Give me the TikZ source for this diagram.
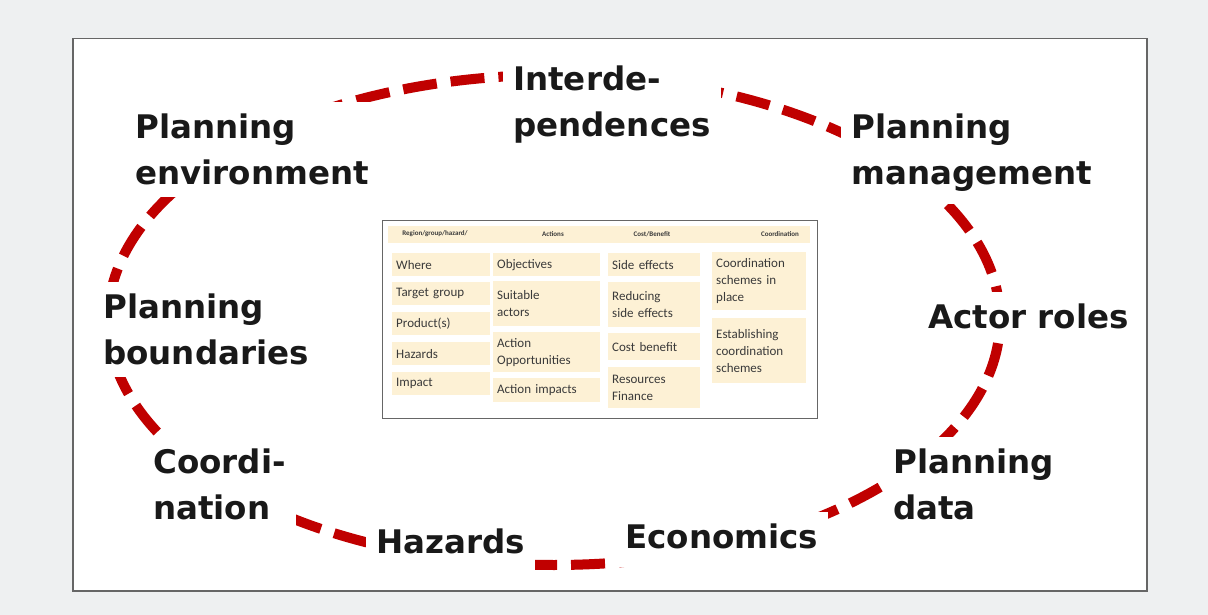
\documentclass[tikz,border=0pt]{standalone}
\usepackage{fontspec}
\setmainfont{Carlito}
\newfontfamily\lblfont{DejaVu Sans}
\definecolor{ringred}{HTML}{C00000}
\definecolor{cellfill}{HTML}{FDF1D5}
\definecolor{celltext}{HTML}{3A3A3A}
\definecolor{pagebg}{HTML}{EEF0F1}
\definecolor{framegray}{HTML}{666666}
\begin{document}
\begin{tikzpicture}[x=1pt,y=-1pt,
  lbl/.style={font=\lblfont\bfseries\fontsize{32.5}{46}\selectfont, fill=white, inner xsep=10pt, inner ysep=12pt, align=left, anchor=north west, text=black!90},
  cell/.style={fill=cellfill, inner sep=4pt, anchor=north west, align=left, font=\fontsize{13}{17}\selectfont, text=celltext, minimum height=#1},
  colA/.style={text width=90pt},
  colB/.style={text width=99pt},
  colC/.style={text width=84pt},
  colD/.style={text width=86pt},
  hdrtext/.style={font=\bfseries\fontsize{7}{8}\selectfont, text=celltext, inner sep=0pt},
  ring/.style={draw=ringred, line width=10pt, dash pattern=on 34pt off 14pt}]
\useasboundingbox (0,0) rectangle (1208,615);
\fill[pagebg] (0,0) rectangle (1208,615);
\node[draw=framegray, line width=1.5pt, fill=white, minimum width=1074pt, minimum height=552pt, anchor=north west, inner sep=0pt] (frame) at (72,38) {};
% ring
\draw[ring] (554,320) ellipse [x radius=446pt, y radius=245pt];
% labels
\node[lbl] (inter) at (503,54) {Interde-\\pendences};
\node[lbl] (pmgmt) at (841,102) {Planning\\management};
\node[lbl] (penv) at (125,102) {Planning\\environment};
\node[lbl] (actor) at (918,292) {Actor roles};
\node[lbl] (pbound) at (93,282) {Planning\\boundaries};
\node[lbl] (coord) at (143,437) {Coordi-\\nation};
\node[lbl, text depth=6pt] (haz) at (366,517) {Hazards};
\node[lbl, text depth=6pt] (econ) at (615,512) {Economics};
\node[lbl] (pdata) at (883,437) {Planning\\data};
% table
\node[draw=framegray, line width=1.2pt, minimum width=435pt, minimum height=198pt, anchor=north west, inner sep=0pt] (tbl) at (382,220) {};
\node[fill=cellfill, minimum width=422pt, minimum height=17pt, anchor=north west, inner sep=0pt] (hdr) at (388,226) {};
\node[hdrtext] (h1) at (435,234) {Region/group/hazard/};
\node[hdrtext] (h2) at (553,234) {Actions};
\node[hdrtext] (h3) at (652,234) {Cost/Benefit};
\node[hdrtext] (h4) at (780,234) {Coordination};
% column 1
\node[cell=23pt, colA] (a1) at (392,253) {Where};
\node[cell=23pt, colA] (a2) at (392,282) {Target group};
\node[cell=23pt, colA] (a3) at (392,312) {Product(s)};
\node[cell=23pt, colA] (a4) at (392,342) {Hazards};
\node[cell=23pt, colA] (a5) at (392,372) {Impact};
% column 2
\node[cell=23pt, colB] (b1) at (493,253) {Objectives};
\node[cell=45pt, colB] (b2) at (493,281) {Suitable\\actors};
\node[cell=40pt, colB] (b3) at (493,332) {Action\\Opportunities};
\node[cell=24pt, colB] (b4) at (493,378) {Action impacts};
% column 3
\node[cell=23pt, colC] (c1) at (608,253) {Side effects};
\node[cell=45pt, colC] (c2) at (608,282) {Reducing\\side effects};
\node[cell=27pt, colC] (c3) at (608,333) {Cost benefit};
\node[cell=41pt, colC] (c4) at (608,367) {Resources\\Finance};
% column 4
\node[cell=58pt, colD] (d1) at (712,252) {Coordination\\schemes in\\place};
\node[cell=65pt, colD] (d2) at (712,318) {Establishing\\coordination\\schemes};
\end{tikzpicture}
\end{document}
